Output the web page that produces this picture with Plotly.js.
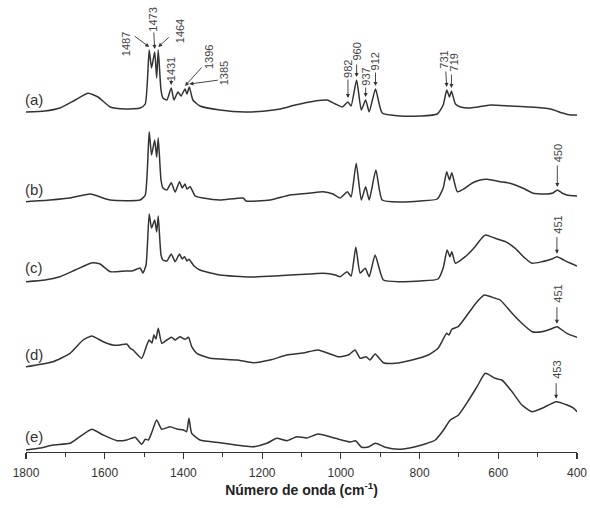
<!DOCTYPE html>
<html>
<head>
<meta charset="utf-8">
<script src="https://cdn.plot.ly/plotly-3.0.1.min.js"></script>
<style>html,body{margin:0;padding:0;background:#fff;}#chart{width:590px;height:508px;}</style>
</head>
<body>
<div id="chart"></div>
<script>
// Wavenumbers (cm-1) and relative absorbance (arbitrary units, stacked)
const wnA = [1800,1752,1714,1675,1642,1617,1586,1548,1510,1497,1487,1481,1473,1468,1464,1457,1452,1442,1431,1424,1414,1406,1396,1391,1385,1376,1358,1307,1243,1192,1154,1116,1065,1035,1014,996,982,974,960,948,937,928,912,895,849,798,755,740,731,724,719,709,696,671,620,570,519,468,437,417,400];
const absA = [340,341,344,352,358.7,355,345,343,344,348,402,384,400,374,402,362,354,352,364,352,360,356,363,358,365,352,346,342,340,341,343,347,351,352,348,345,350,346,372,342,352,340,363,339,336,336,338,347,362,355,361,348,345,344,347,346,345,343,339,337,337];

const wnB = [1800,1739,1688,1637,1586,1510,1497,1487,1481,1473,1468,1464,1457,1452,1442,1431,1421,1410,1403,1396,1391,1383,1370,1350,1307,1248,1241,1180,1129,1078,1045,1020,1002,983,974,961,948,937,928,911,895,849,798,755,740,731,724,718,704,684,666,646,628,595,570,537,511,476,461,450,438,426,400];
const absB = [250.3,252,254,258,252,252,257,320.3,297,312,295,314,272,264,262,269.3,260,270.3,264,268,263,265.3,256,254,252,254,251,252,257,259,260.3,258,254,260.3,255,288.7,252,265.3,252,282,252,250,251,253,264,280.3,272,279.3,260.3,264,269,272,272.7,270.3,268.7,263.7,258.7,258,259,262,259,257,256];

const wnC = [1800,1752,1714,1675,1632,1612,1586,1548,1528,1510,1503,1495,1487,1481,1473,1468,1464,1457,1452,1442,1431,1421,1410,1403,1397,1391,1386,1373,1358,1307,1231,1167,1129,1078,1045,1014,1002,984,974,962,951,938,928,913,892,849,798,753,740,730,723,718,709,684,659,646,633,608,582,557,532,514,489,472,463,451,438,426,400];
const absC = [170.3,172,175.3,182,189.3,188,180.3,181,181.3,184,179,187,238,224,232,220,236,197,192,191,198,190.3,198,193,195.3,191,192.7,186,182,177,175,176,177,178,178.7,177,175.3,180.3,176,204.7,179,183.7,175.3,197,172,170.3,171,173,184,202,195.3,200.3,188.7,195.3,205.3,212,217,213.7,210.3,203.7,193.7,188.7,190.3,192,193,195.3,193,190.3,186];

const wnD = [1800,1731,1688,1655,1633,1604,1579,1561,1544,1536,1528,1506,1493,1487,1480,1475,1470,1464,1455,1442,1430,1421,1409,1396,1387,1379,1366,1332,1264,1223,1180,1137,1096,1058,1007,981,964,951,936,926,913,892,862,819,778,753,731,725,718,702,676,654,635,608,595,565,540,514,489,468,451,426,400];
const absD = [85.3,90.3,98.7,112,116,110.3,107,107,108,104,102,93.7,107,112,109,117,113,123.7,108.7,112,114.7,112,115.3,112.7,114.7,105.3,98.7,93.7,92,89.3,92,97,99,102,95.3,97,102,93.7,95.3,92,98,89.3,88.7,92,97,103.7,118.7,117,122.7,125.3,138.7,150.3,157,153.7,152,138.7,128.7,120.3,120.3,122.7,125.3,118.7,114.7];

const wnE = [1800,1764,1731,1688,1663,1633,1604,1569,1544,1523,1506,1497,1489,1480,1468,1455,1434,1417,1400,1392,1386,1379,1358,1307,1223,1188,1163,1137,1112,1086,1058,1014,976,963,947,930,912,887,854,811,786,760,739,722,701,675,654,633,608,591,565,540,514,489,453,425,408,400];
const absE = [2,4,7,8.7,15.3,22.7,17,11.3,12,14.7,7.7,12.7,12,20,32,22.7,25.3,23,22,20.3,33.7,18.7,12,9.3,5.3,8.7,13.7,11.3,15.3,14,18,13.7,10,11.3,4.7,5,8.7,4.7,2.7,5.3,8,12,22,32,37,52,65.3,78.7,73.7,72,60.3,47,40.3,43.7,50.3,47,43.7,40.3];

const seriesNames = ['(a)','(b)','(c)','(d)','(e)'];
const tickVals = [1800,1600,1400,1200,1000,800,600,400];
const xTitle = 'Número de onda (cm<sup>-1</sup>)';

// Peak labels: [series index, wavenumber, text]
const peakSeries = [0,0,0,0,0,0,0,0,0,0,0,0,1,2,3,4];
const peakWn     = [1487,1473,1464,1431,1396,1385,982,960,937,912,731,719,450,451,451,453];
const peakText   = ['1487','1473','1464','1431','1396','1385','982','960','937','912','731','719','450','451','451','453'];

// ---- styling / placement (pixels) ----
const arrowTail = [[-16,-12],[-1,-18],[12,-11],[0,-7],[18,-20],[30,-4],[0,-20],[0,-14],[0,-11],[0,-15],[-1,-17],[0,-15],[0,-23],[0,-18],[0,-18],[0,-17]];
const textOff   = [[-23,-3],[-2,-29],[22,-16],[0,-16],[24,-29],[35,-11],[0,-29],[0,-25],[0,-20],[0,-25],[-3,-27],[3,-26],[1,-34],[1,-29],[1,-30],[1,-29]];
const tipGap    = [3,3,3,3,3,3,4,3,3,3,3,3,3,3,3,3];
const labelGap  = [13,12,14,12,14];

const allWn = [wnA,wnB,wnC,wnD,wnE];
const allAbs = [absA,absB,absC,absD,absE];

function interp(xs, ys, x){
  for(let i=0;i<xs.length-1;i++){
    const x0=xs[i], x1=xs[i+1];
    if((x<=x0 && x>=x1)){
      const t=(x-x0)/(x1-x0);
      return ys[i]+t*(ys[i+1]-ys[i]);
    }
  }
  return ys[ys.length-1];
}

const lineColor = '#333333';
const fontFam = 'Liberation Sans, Arial, sans-serif';

const traces = allWn.map((wn,i)=>({
  type:'scatter', mode:'lines', x:wn, y:allAbs[i], name:seriesNames[i],
  line:{color:lineColor, width:1.5, shape:'spline', smoothing:0.5}, hoverinfo:'skip'
}));

const annotations = [];
seriesNames.forEach((nm,i)=>{
  annotations.push({
    x:allWn[i][0], y:allAbs[i][0]+labelGap[i], xref:'x', yref:'y',
    text:nm, showarrow:false, xanchor:'left', yanchor:'middle', xshift:-3,
    font:{family:fontFam, size:15, color:'#333'}
  });
});
peakWn.forEach((w,k)=>{
  const s = peakSeries[k];
  const yv = interp(allWn[s], allAbs[s], w) + tipGap[k];
  annotations.push({
    x:w, y:yv, xref:'x', yref:'y', text:'', showarrow:true,
    ax:arrowTail[k][0], ay:arrowTail[k][1], arrowhead:2, arrowsize:0.9, arrowwidth:0.9,
    arrowcolor:'#333', standoff:0, startstandoff:0
  });
  annotations.push({
    x:w, y:yv, xref:'x', yref:'y', text:peakText[k], showarrow:false, textangle:-90,
    xshift:textOff[k][0], yshift:-textOff[k][1], xanchor:'center', yanchor:'middle',
    font:{family:fontFam, size:11, color:'#444'}
  });
});

const layout = {
  width:590, height:508,
  margin:{l:26, r:13, t:0, b:56},
  paper_bgcolor:'#fff', plot_bgcolor:'#fff',
  showlegend:false,
  xaxis:{
    range:[1800,400], tickvals:tickVals, ticktext:tickVals.map(String),
    showline:true, linecolor:'#333', linewidth:1.3, mirror:false,
    ticks:'outside', ticklen:6, tickwidth:1.2, tickcolor:'#333', ticklabelstandoff:3,
    minor:{dtick:100, tick0:400, ticks:'outside', ticklen:4, tickwidth:1.1, tickcolor:'#333'},
    showgrid:false, zeroline:false,
    tickfont:{family:fontFam, size:12, color:'#333'},
    title:{text:xTitle, font:{family:fontFam, size:14, color:'#222', weight:'bold'}, standoff:6}
  },
  yaxis:{range:[0,452], visible:false, showgrid:false, zeroline:false},
  annotations:annotations
};

Plotly.newPlot('chart', traces, layout, {staticPlot:true, displayModeBar:false});
</script>
</body>
</html>
